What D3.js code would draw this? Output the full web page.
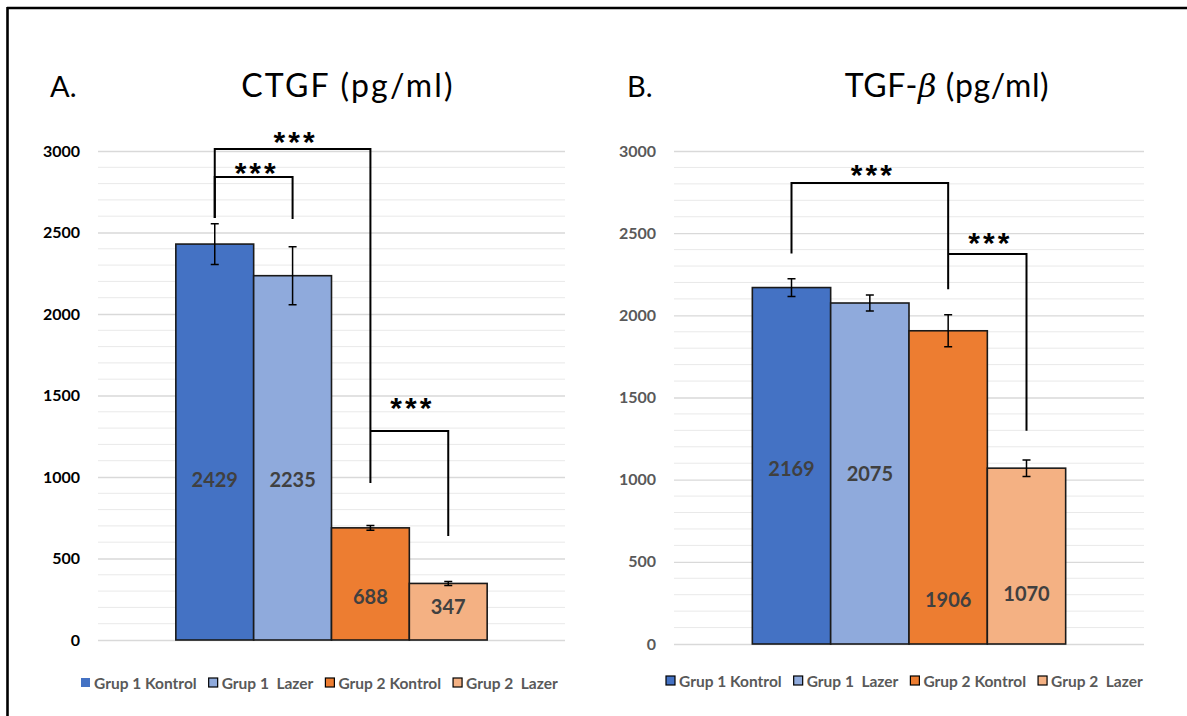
<!DOCTYPE html>
<html>
<head>
<meta charset="utf-8">
<script src="https://cdn.jsdelivr.net/npm/d3@7"></script>
<style>
  html, body { margin: 0; padding: 0; background: #fff; }
  svg { display: block; font-family: "Lato", "Liberation Sans", sans-serif; }
  .pre { white-space: pre; }
</style>
</head>
<body>
<svg id="fig" width="1187" height="716"></svg>
<script>
// Groups shared by both panels
const groups = ["Grup 1 Kontrol", "Grup 1  Lazer", "Grup 2 Kontrol", "Grup 2  Lazer"];
const groupColors = ["#4472C4", "#8FAADC", "#ED7D31", "#F4B183"];
const yTicks = [0, 500, 1000, 1500, 2000, 2500, 3000];

// Panel A: CTGF (pg/ml)
const ctgfMeans = [2429, 2235, 688, 347];
const ctgfErrors = [125, 178, 15, 12];
const ctgfLabelAt = [982, 982, 264, 202];
const ctgfBrackets = [
  { a: 0, b: 2, top: 3012, footA: 2589, footB: 963, stars: 3100 },
  { a: 0, b: 1, top: 2840, footA: 2589, footB: 2583, stars: 2906 },
  { a: 2, b: 3, top: 1282, footA: 1282, footB: 638, stars: 1465 }
];

// Panel B: TGF-β (pg/ml)
const tgfMeans = [2169, 2075, 1906, 1070];
const tgfErrors = [54, 49, 97, 50];
const tgfLabelAt = [1069, 1034, 268, 304];
const tgfBrackets = [
  { a: 0, b: 2, top: 2805, footA: 2377, footB: 2158, stars: 2897 },
  { a: 2, b: 3, top: 2373, footA: 2373, footB: 1298, stars: 2483 }
];

const svg = d3.select("#fig");

// frame lines along the top and left edge
svg.append("line").attr("x1", 7).attr("x2", 1187).attr("y1", 8).attr("y2", 8)
  .attr("stroke", "#000").attr("stroke-width", 2.6);
svg.append("line").attr("x1", 7.5).attr("x2", 7.5).attr("y1", 7).attr("y2", 716)
  .attr("stroke", "#000").attr("stroke-width", 2.6);

function drawPanel(cfg) {
  const g = svg.append("g");
  const y = d3.scaleLinear().domain([0, 3000]).range([cfg.bottom, cfg.top]);
  const x = d3.scaleBand().domain(groups).range([cfg.left, cfg.right])
    .paddingInner(0).paddingOuter(1);

  // gridlines: minor every 100, major every 500
  const minor = d3.range(100, 3000, 100).filter(v => v % 500 !== 0);
  g.append("g").selectAll("line").data(minor).join("line")
    .attr("x1", cfg.left).attr("x2", cfg.right)
    .attr("y1", d => y(d)).attr("y2", d => y(d))
    .attr("stroke", "#e9e9e9").attr("stroke-width", 1);

  const axis = d3.axisLeft(y).tickValues(yTicks).tickSize(-(cfg.right - cfg.left))
    .tickPadding(18).tickFormat(d3.format("d"));
  const ax = g.append("g").attr("transform", `translate(${cfg.left},0)`).call(axis);
  ax.select(".domain").remove();
  ax.selectAll(".tick line").attr("stroke", "#d9d9d9").attr("stroke-width", 1.3);
  ax.selectAll(".tick text")
    .attr("fill", cfg.tickColor).attr("font-size", 16).attr("font-weight", 700)
    .attr("font-family", "Lato");

  // bars
  g.append("g").selectAll("rect").data(cfg.means).join("rect")
    .attr("x", (d, i) => x(groups[i]))
    .attr("width", x.bandwidth())
    .attr("y", d => y(d))
    .attr("height", d => y(0) - y(d))
    .attr("fill", (d, i) => groupColors[i])
    .attr("stroke", "#1a1a1a").attr("stroke-width", 1.6);

  // error bars
  const cx = i => x(groups[i]) + x.bandwidth() / 2;
  const eb = g.append("g").attr("stroke", "#000").attr("stroke-width", 1.5).attr("fill", "none");
  cfg.means.forEach((m, i) => {
    const e = cfg.errors[i];
    eb.append("path").attr("d",
      `M${cx(i)},${y(m + e)}V${y(m - e)}` +
      `M${cx(i) - 4},${y(m + e)}H${cx(i) + 4}` +
      `M${cx(i) - 4},${y(m - e)}H${cx(i) + 4}`);
  });

  // value labels
  g.append("g").selectAll("text").data(cfg.means).join("text")
    .attr("x", (d, i) => cx(i))
    .attr("y", (d, i) => y(cfg.labelAt[i]))
    .attr("dy", "0.36em")
    .attr("text-anchor", "middle")
    .attr("font-size", 20).attr("font-weight", 700).attr("fill", "#404040")
    .text(d => d);

  // significance brackets
  const br = g.append("g");
  cfg.brackets.forEach(b => {
    br.append("path")
      .attr("d", `M${cx(b.a)},${y(b.footA)}V${y(b.top)}H${cx(b.b)}V${y(b.footB)}`)
      .attr("fill", "none").attr("stroke", "#000").attr("stroke-width", 2);
    br.append("text")
      .attr("x", (cx(b.a) + cx(b.b)) / 2 + 3)
      .attr("y", y(b.stars) + 17)
      .attr("text-anchor", "middle")
      .attr("font-family", "Liberation Sans")
      .attr("font-size", 30).attr("font-weight", 700).attr("letter-spacing", 3)
      .attr("fill", "#000")
      .text("***");
  });

  // panel letter and title
  g.append("text").attr("x", cfg.letterX).attr("y", 97)
    .attr("font-size", 29).attr("fill", "#000").text(cfg.letter);
  const t = g.append("text").attr("x", cfg.titleX).attr("y", 97)
    .attr("text-anchor", "middle").attr("font-size", 32).attr("fill", "#000")
    .attr("letter-spacing", cfg.titleSpacing);
  cfg.title(t);

  // legend
  const lg = g.append("g").attr("transform", `translate(${cfg.legendX},${cfg.legendY})`);
  let off = 0;
  groups.forEach((name, i) => {
    const it = lg.append("g").attr("transform", `translate(${off},0)`);
    it.append("rect").attr("x", 0).attr("y", -5).attr("width", 9).attr("height", 9)
      .attr("fill", groupColors[i])
      .attr("stroke", (cfg.plainFirstSwatch && i === 0) ? "none" : "#000")
      .attr("stroke-width", 1.2);
    const tx = it.append("text").attr("class", "pre").attr("x", 13).attr("y", 0)
      .attr("dy", "0.36em")
      .attr("font-size", 15.5).attr("font-weight", 700).attr("fill", "#595959")
      .text(name);
    off += 13 + tx.node().getComputedTextLength() + 12;
  });
}

drawPanel({
  left: 98, right: 565, top: 151, bottom: 640,
  means: ctgfMeans, errors: ctgfErrors, labelAt: ctgfLabelAt, brackets: ctgfBrackets,
  tickColor: "#000", letter: "A.", letterX: 50, titleX: 348, titleSpacing: 2.2,
  title: t => t.text("CTGF (pg/ml)"),
  legendX: 81, legendY: 683, plainFirstSwatch: true
});

drawPanel({
  left: 674, right: 1144, top: 151, bottom: 644,
  means: tgfMeans, errors: tgfErrors, labelAt: tgfLabelAt, brackets: tgfBrackets,
  tickColor: "#595959", letter: "B.", letterX: 627, titleX: 947, titleSpacing: 0.6,
  title: t => {
    t.append("tspan").text("TGF-");
    t.append("tspan").attr("font-style", "italic").attr("font-family", "DejaVu Serif")
      .text("β");
    t.append("tspan").text(" (pg/ml)");
  },
  legendX: 666, legendY: 681, plainFirstSwatch: false
});
</script>
</body>
</html>
